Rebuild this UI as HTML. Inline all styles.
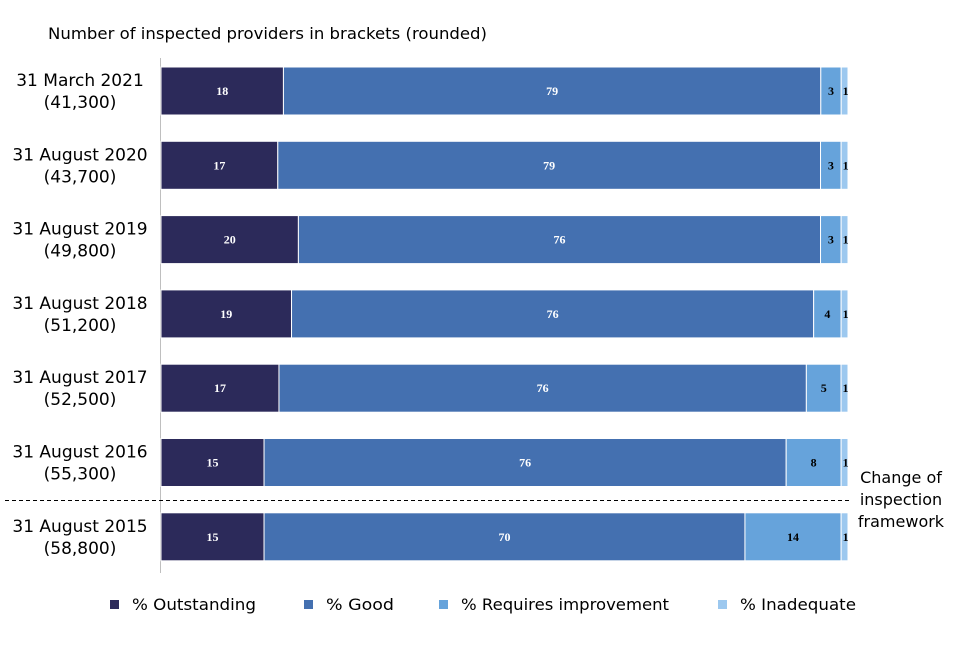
<!DOCTYPE html>
<html><head><meta charset="utf-8"><style>
html,body{margin:0;padding:0;background:#fff;}
svg text{font-family:"DejaVu Sans","Liberation Sans",sans-serif;}
svg text.val{font-family:"Liberation Serif",serif;}
svg text.leg{font-family:"DejaVu Sans",sans-serif;}
</style></head><body>
<svg id="chart" width="960" height="640" viewBox="0 0 960 640" xmlns="http://www.w3.org/2000/svg">
<text x="48" y="39" font-size="16" fill="#000" textLength="439" lengthAdjust="spacingAndGlyphs">Number of inspected providers in brackets (rounded)</text>
<line x1="160.5" y1="58" x2="160.5" y2="573" stroke="#bfbfbf" stroke-width="1"/>
<line x1="5" y1="500.5" x2="850" y2="500.5" stroke="#000" stroke-width="1" stroke-dasharray="4,3"/>
<text font-size="16" fill="#000" text-anchor="middle"><tspan x="901" y="483">Change of</tspan><tspan x="901" y="505">inspection</tspan><tspan x="901" y="527">framework</tspan></text>
<g id="bars"></g>
<g id="legend"></g>
</svg>
<script>
const categories = ["31 March 2021","31 August 2020","31 August 2019","31 August 2018","31 August 2017","31 August 2016","31 August 2015"];
const counts = ["(41,300)","(43,700)","(49,800)","(51,200)","(52,500)","(55,300)","(58,800)"];
const outstanding = [18,17,20,19,17,15,15];
const good = [79,79,76,76,76,76,70];
const requiresImprovement = [3,3,3,4,5,8,14];
const inadequate = [1,1,1,1,1,1,1];
const seriesNames = ["% Outstanding","% Good","% Requires improvement","% Inadequate"];

const NS="http://www.w3.org/2000/svg";
const colors=["#2c2a5a","#4470b0","#66a3db","#9cc8ef"];
const labelColors=["#fff","#fff","#000","#000"];
const x0=161, plotW=687, rowTop=67, rowStep=74.3, barH=48;
function yPos(i){return rowTop+i*rowStep;}
function xScale(v,total){return v/total*plotW;}
const bars=document.getElementById('bars');
const series=[outstanding,good,requiresImprovement,inadequate];
const segNames=["outstanding","good","requires-improvement","inadequate"];
function mk(tag,attrs){const e=document.createElementNS(NS,tag);for(const k in attrs)e.setAttribute(k,attrs[k]);return e;}
categories.forEach((c,i)=>{
  const y=yPos(i);
  const cy=y+barH/2;
  const lab=mk('text',{x:80,'font-size':17,'text-anchor':'middle',fill:'#000'});
  
  
  const t1=mk('tspan',{x:80,y:cy-5});t1.textContent=c;
  const t2=mk('tspan',{x:80,y:cy+17});t2.textContent=counts[i];
  lab.appendChild(t1);lab.appendChild(t2);bars.appendChild(lab);
  const total=series.reduce((s,a)=>s+a[i],0);
  let cum=0;
  series.forEach((arr,j)=>{
    const v=arr[i];
    const x=x0+xScale(cum,total), w=xScale(v,total);
    const r=mk('rect',{x:x,y:y,width:w,height:barH,fill:colors[j],stroke:'#fff','stroke-width':1});
    
    
    bars.appendChild(r);
    const t=mk('text',{class:'val',x:j===3?x+w/2+1:x+w/2,y:cy+4,'font-size':12,'font-weight':'bold','text-anchor':'middle',fill:labelColors[j]});
    
    
    t.textContent=v;
    bars.appendChild(t);
    cum+=v;
  });
});
const legend=document.getElementById('legend');
const lx=[110,304,439,718];
const lw=[124,68,208,116];
seriesNames.forEach((n,j)=>{
  const g=mk('g',{});
  
  
  g.appendChild(mk('rect',{x:lx[j],y:600,width:9,height:9,fill:colors[j]}));
  const t=mk('text',{class:'leg',x:lx[j]+22,y:610,'font-size':16,fill:'#000',textLength:lw[j],lengthAdjust:'spacingAndGlyphs'});
  t.textContent=n;g.appendChild(t);
  legend.appendChild(g);
});
</script>
</body></html>
